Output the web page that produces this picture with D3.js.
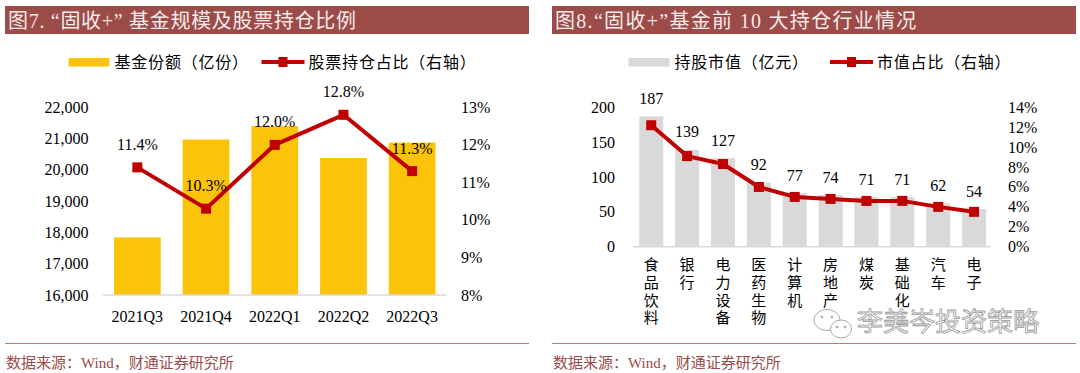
<!DOCTYPE html>
<html>
<head>
<meta charset="utf-8">
<script src="https://cdn.jsdelivr.net/npm/d3@7"></script>
<style>
  body { margin: 0; background: #fff; }
  svg { display: block; }
  text { font-family: "Liberation Serif", "Noto Sans CJK SC", serif; }
</style>
</head>
<body>
<svg id="chart" width="1080" height="373"></svg>
<script>
// Figure 7 data
const quarters = ['2021Q3', '2021Q4', '2022Q1', '2022Q2', '2022Q3']
const fundShares = [17840, 20970, 21400, 20380, 20870]
const stockRatio = [11.4, 10.3, 12.0, 12.8, 11.3]
const leftTicks7 = [16000, 17000, 18000, 19000, 20000, 21000, 22000]
const rightTicks7 = [8, 9, 10, 11, 12, 13]

// Figure 8 data
const industries = ['食品饮料', '银行', '电力设备', '医药生物', '计算机', '房地产', '煤炭', '基础化工', '汽车', '电子']
const holdValue = [187, 139, 127, 92, 77, 74, 71, 71, 62, 54]
const valueShare = [12.2, 9.1, 8.3, 6.0, 5.0, 4.8, 4.6, 4.6, 4.0, 3.5]
const leftTicks8 = [0, 50, 100, 150, 200]
const rightTicks8 = [0, 2, 4, 6, 8, 10, 12, 14]

const RED = '#c00000'
const BROWN = '#9b4b48'
const fmt = d3.format(',')

const svg = d3.select('#chart')

// panel frame: title bar, bottom rule and source line
let drawFrame = (x0, x1, title, spacing) => {
  svg.append('rect')
    .attr('x', x0).attr('y', 6)
    .attr('width', x1 - x0).attr('height', 28)
    .attr('fill', BROWN)
  svg.append('text')
    .attr('x', x0 + 3).attr('y', 21)
    .attr('dominant-baseline', 'central')
    .attr('font-size', 20)
    .attr('letter-spacing', spacing)
    .attr('fill', '#f6eaea')
    .text(title)
  svg.append('line')
    .attr('x1', x0).attr('x2', x1)
    .attr('y1', 343.5).attr('y2', 343.5)
    .attr('stroke', '#c07a76').attr('stroke-width', 1.2)
  svg.append('text')
    .attr('x', x0 + 1).attr('y', 362.5)
    .attr('dominant-baseline', 'central')
    .attr('font-size', 15)
    .attr('fill', BROWN)
    .text('数据来源：Wind，财通证券研究所')
}

// legend: a filled swatch and a line with square marker
let drawLegend = (barX, barColor, barText, lineX, lineText) => {
  const g = svg.append('g')
  g.append('rect')
    .attr('x', barX).attr('y', 58)
    .attr('width', 41).attr('height', 8.5)
    .attr('fill', barColor)
  g.append('text')
    .attr('x', barX + 46).attr('y', 62)
    .attr('dominant-baseline', 'central')
    .attr('font-size', 16)
    .attr('letter-spacing', 0.8)
    .text(barText)
  g.append('line')
    .attr('x1', lineX).attr('x2', lineX + 43)
    .attr('y1', 62).attr('y2', 62)
    .attr('stroke', RED).attr('stroke-width', 4)
  g.append('rect')
    .attr('x', lineX + 21.5 - 4.5).attr('y', 62 - 5)
    .attr('width', 9).attr('height', 10)
    .attr('fill', RED)
  g.append('text')
    .attr('x', lineX + 47).attr('y', 62)
    .attr('dominant-baseline', 'central')
    .attr('font-size', 16)
    .attr('letter-spacing', 0.8)
    .text(lineText)
}

// ---------- Figure 7 ----------
drawFrame(5, 529, '图7. “固收+” 基金规模及股票持仓比例', 0.7)
drawLegend(68.5, '#fbc30a', '基金份额（亿份）', 261.5, '股票持仓占比（右轴）')

const x7 = d3.scaleBand().domain(quarters).range([103, 446.5])
  .paddingInner(0.32).paddingOuter(0.16)
const yL7 = d3.scaleLinear().domain([16000, 22000]).range([295, 107.3])
const yR7 = d3.scaleLinear().domain([8, 13]).range([295, 107.3])

svg.append('g').selectAll('rect')
  .data(quarters)
  .enter()
  .append('rect')
  .attr('x', d => x7(d))
  .attr('width', x7.bandwidth())
  .attr('y', (d, i) => yL7(fundShares[i]))
  .attr('height', (d, i) => yL7(16000) - yL7(fundShares[i]))
  .attr('fill', '#fbc30a')

svg.append('line')
  .attr('x1', 103).attr('x2', 446.5)
  .attr('y1', 295).attr('y2', 295)
  .attr('stroke', '#d9d9d9').attr('stroke-width', 1.5)

svg.append('g').selectAll('text')
  .data(leftTicks7)
  .enter()
  .append('text')
  .attr('x', 88.5).attr('y', d => yL7(d))
  .attr('text-anchor', 'end')
  .attr('dominant-baseline', 'central')
  .attr('font-size', 16)
  .text(d => fmt(d))

svg.append('g').selectAll('text')
  .data(rightTicks7)
  .enter()
  .append('text')
  .attr('x', 461).attr('y', d => yR7(d))
  .attr('dominant-baseline', 'central')
  .attr('font-size', 16)
  .text(d => d + '%')

svg.append('g').selectAll('text')
  .data(quarters)
  .enter()
  .append('text')
  .attr('x', d => x7(d) + x7.bandwidth() / 2).attr('y', 316.7)
  .attr('text-anchor', 'middle')
  .attr('dominant-baseline', 'central')
  .attr('font-size', 16)
  .text(d => d)

const line7 = d3.line()
  .x((d, i) => x7(quarters[i]) + x7.bandwidth() / 2)
  .y(d => yR7(d))

svg.append('path')
  .attr('d', line7(stockRatio))
  .attr('fill', 'none')
  .attr('stroke', RED).attr('stroke-width', 4)
  .attr('stroke-linejoin', 'round')

svg.append('g').selectAll('rect')
  .data(stockRatio)
  .enter()
  .append('rect')
  .attr('x', (d, i) => x7(quarters[i]) + x7.bandwidth() / 2 - 5)
  .attr('y', d => yR7(d) - 5)
  .attr('width', 10).attr('height', 10)
  .attr('fill', RED)

svg.append('g').selectAll('text')
  .data(stockRatio)
  .enter()
  .append('text')
  .attr('x', (d, i) => x7(quarters[i]) + x7.bandwidth() / 2)
  .attr('y', d => yR7(d) - 23)
  .attr('text-anchor', 'middle')
  .attr('dominant-baseline', 'central')
  .attr('font-size', 16)
  .text(d => d.toFixed(1) + '%')

// ---------- Figure 8 ----------
drawFrame(552, 1076, '图8.“固收+”基金前 10 大持仓行业情况', 1.3)
drawLegend(628.5, '#d9d9d9', '持股市值（亿元）', 830, '市值占比（右轴）')

const x8 = d3.scaleBand().domain(industries).range([633.3, 992])
  .paddingInner(0.33).paddingOuter(0.165)
const yL8 = d3.scaleLinear().domain([0, 200]).range([246.7, 107.3])
const yR8 = d3.scaleLinear().domain([0, 14]).range([246.7, 107.3])

svg.append('g').selectAll('rect')
  .data(industries)
  .enter()
  .append('rect')
  .attr('x', d => x8(d))
  .attr('width', x8.bandwidth())
  .attr('y', (d, i) => yL8(holdValue[i]))
  .attr('height', (d, i) => yL8(0) - yL8(holdValue[i]))
  .attr('fill', '#d9d9d9')

svg.append('line')
  .attr('x1', 633.3).attr('x2', 990)
  .attr('y1', 246.7).attr('y2', 246.7)
  .attr('stroke', '#d9d9d9').attr('stroke-width', 1.5)

svg.append('g').selectAll('text')
  .data(leftTicks8)
  .enter()
  .append('text')
  .attr('x', 615).attr('y', d => yL8(d))
  .attr('text-anchor', 'end')
  .attr('dominant-baseline', 'central')
  .attr('font-size', 16)
  .text(d => d)

svg.append('g').selectAll('text')
  .data(rightTicks8)
  .enter()
  .append('text')
  .attr('x', 1008).attr('y', d => yR8(d))
  .attr('dominant-baseline', 'central')
  .attr('font-size', 16)
  .text(d => d + '%')

// bar value labels
svg.append('g').selectAll('text')
  .data(holdValue)
  .enter()
  .append('text')
  .attr('x', (d, i) => x8(industries[i]) + x8.bandwidth() / 2)
  .attr('y', d => yL8(d) - 18)
  .attr('text-anchor', 'middle')
  .attr('dominant-baseline', 'central')
  .attr('font-size', 16)
  .text(d => d)

// vertical category labels, one character per line
const catG = svg.append('g')
industries.forEach((name, i) => {
  Array.from(name).forEach((ch, j) => {
    catG.append('text')
      .attr('x', x8(name) + x8.bandwidth() / 2)
      .attr('y', 265 + j * 17.8)
      .attr('text-anchor', 'middle')
      .attr('dominant-baseline', 'central')
      .attr('font-size', 15)
      .text(ch)
  })
})

const line8 = d3.line()
  .x((d, i) => x8(industries[i]) + x8.bandwidth() / 2)
  .y(d => yR8(d))

svg.append('path')
  .attr('d', line8(valueShare))
  .attr('fill', 'none')
  .attr('stroke', RED).attr('stroke-width', 4)
  .attr('stroke-linejoin', 'round')

svg.append('g').selectAll('rect')
  .data(valueShare)
  .enter()
  .append('rect')
  .attr('x', (d, i) => x8(industries[i]) + x8.bandwidth() / 2 - 5)
  .attr('y', d => yR8(d) - 5)
  .attr('width', 10).attr('height', 10)
  .attr('fill', RED)

// watermark
const wm = svg.append('g')
wm.append('rect')
  .attr('x', 812).attr('y', 309).attr('width', 232).attr('height', 31)
  .attr('fill', '#fff').attr('opacity', 0.75)
wm.append('ellipse')
  .attr('cx', 827).attr('cy', 320).attr('rx', 13).attr('ry', 10.5)
  .attr('fill', '#fff').attr('stroke', '#aaa').attr('stroke-width', 1)
wm.append('ellipse')
  .attr('cx', 841).attr('cy', 329).attr('rx', 10.5).attr('ry', 9)
  .attr('fill', '#fff').attr('stroke', '#aaa').attr('stroke-width', 1)
;[[822, 317], [832, 317], [837, 327], [845, 327]].forEach(p => {
  wm.append('circle').attr('cx', p[0]).attr('cy', p[1]).attr('r', 1.3).attr('fill', '#aaa')
})
wm.append('text')
  .attr('x', 857).attr('y', 322)
  .attr('dominant-baseline', 'central')
  .attr('font-size', 26)
  .attr('font-family', 'Noto Sans CJK SC')
  .attr('fill', '#fff')
  .attr('stroke', '#9a9a9a').attr('stroke-width', 0.8)
  .text('李美岑投资策略')
</script>
</body>
</html>
